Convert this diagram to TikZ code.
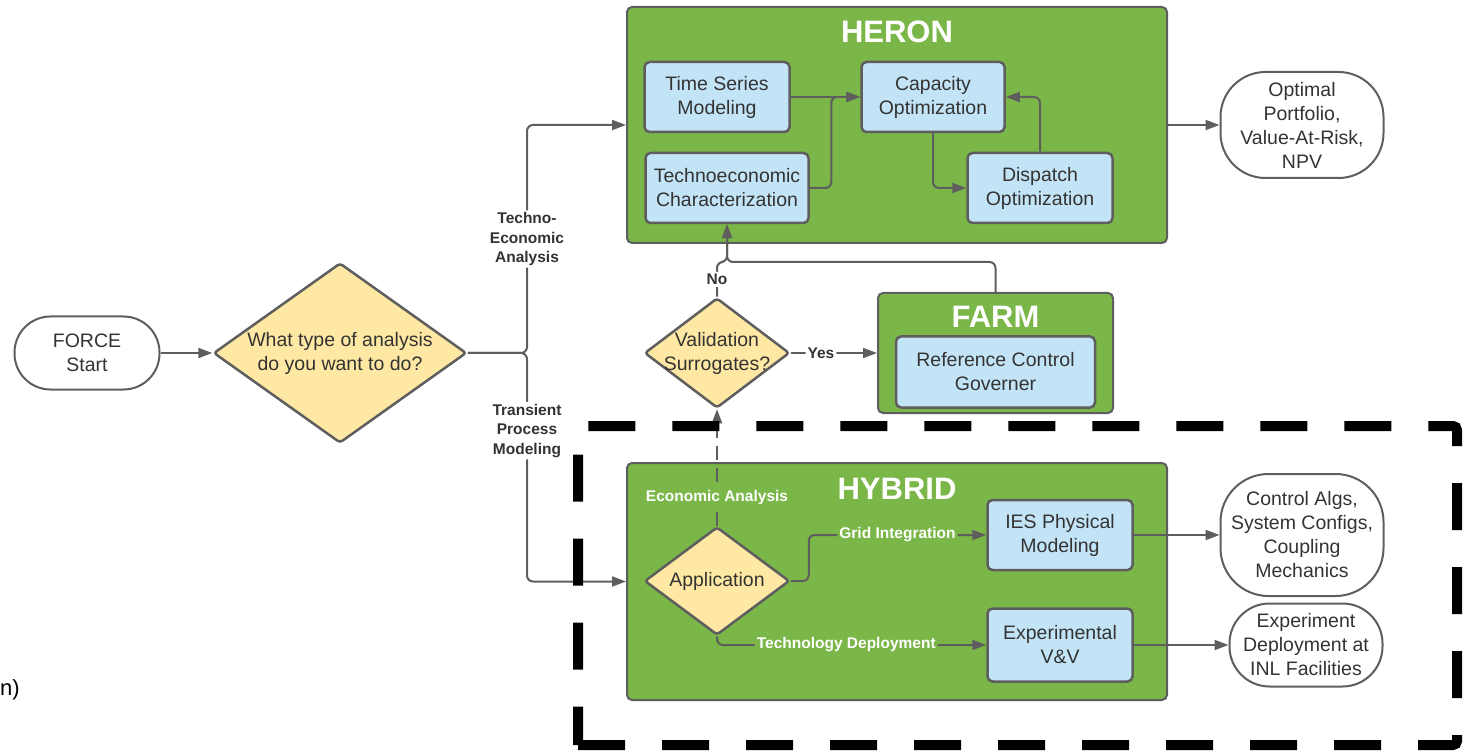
\documentclass[tikz,border=0pt]{standalone}
\usepackage{fontspec}
\setmainfont{Liberation Sans}
\usetikzlibrary{shapes.geometric,arrows.meta,positioning}

\definecolor{toolgreen}{HTML}{7AB648}
\definecolor{modblue}{HTML}{C3E4F6}
\definecolor{decyellow}{HTML}{FFE8A3}
\definecolor{linegray}{HTML}{5E5E5E}
\definecolor{inkgray}{HTML}{333333}

\tikzset{
  boxfont/.style={font=\fontsize{19.5}{24}\selectfont},
  tool/.style={draw=linegray, fill=toolgreen, line width=2pt, rounded corners=5pt, inner sep=0pt},
  tooltitle/.style={text=white, font=\fontsize{31}{36}\selectfont\bfseries},
  module/.style={draw=linegray, fill=modblue, line width=2.5pt, rounded corners=5pt, align=center,
    text=inkgray, boxfont, minimum width=145pt, minimum height=70pt, inner sep=0pt},
  decision/.style={diamond, draw=linegray, fill=decyellow, line width=2.5pt, rounded corners=3pt,
    inner sep=0pt, minimum width=145pt, minimum height=110pt},
  pill/.style={draw=linegray, line width=2pt, align=center, text=inkgray, boxfont, inner sep=0pt},
  conn/.style={draw=linegray, line width=2pt, rounded corners=6pt, -{Triangle[length=14pt,width=10pt]}},
  branch/.style={fill=white, text=inkgray, font=\fontsize{15.5}{19.5}\selectfont\bfseries, align=center, inner sep=2pt},
  inlabel/.style={fill=toolgreen, text=white, font=\fontsize{15.5}{19}\selectfont\bfseries, inner sep=2pt},
  hybridframe/.style={draw=black, line width=10pt, dash pattern=on 47pt off 37pt, rounded corners=4pt},
}

\begin{document}
\begin{tikzpicture}[x=1pt,y=-1pt,on grid]
\useasboundingbox (0,0) rectangle (1473,751);

% containers
\node[tool, minimum width=540pt, minimum height=236pt] (heron) at (897,125) {};
\node[tool, minimum width=235pt, minimum height=120pt] (farm) at (995.5,353) {};
\node[tool, minimum width=540pt, minimum height=237pt] (hybrid) at (897,581.5) {};
\node[tooltitle] (herontitle) at ([yshift=-26pt]heron.north) {HERON};
\node[tooltitle] (farmtitle) at ([yshift=-25pt]farm.north) {FARM};
\node[tooltitle] (hybridtitle) at ([yshift=-27pt]hybrid.north) {HYBRID};

% start and first decision
\node[pill, minimum width=145pt, minimum height=73pt, rounded corners=36pt] (start) at (87,353) {FORCE\\Start};
\node[decision, minimum width=253pt, minimum height=180pt,
  label={[text=inkgray, boxfont, align=center]center:What type of analysis\\do you want to do?}] (what) at (340,353) {};

% HERON
\node[module] (ts) at (717,97) {Time Series\\Modeling};
\node[module, minimum width=163pt] (tech) [below right=91pt and 10pt of ts] {Technoeconomic\\Characterization};
\node[module, minimum width=143pt] (cap) [right=216pt of ts] {Capacity\\Optimization};
\node[module] (disp) [right=313pt of tech] {Dispatch\\Optimization};
\node[pill, minimum width=163pt, minimum height=106pt, rounded corners=45pt] (optimal) at (1302,125)
  {Optimal\\Portfolio,\\Value-At-Risk,\\NPV};

% FARM
\node[decision, label={[text=inkgray, boxfont, align=center]center:Validation\\Surrogates?}] (val)
  [below=256pt of ts] {};
\node[module, minimum width=199pt, minimum height=71pt] (rcg) [below=19pt of farm] {Reference Control\\Governer};

% HYBRID
\node[decision, minimum height=108pt, label={[text=inkgray, boxfont]center:Application}] (app)
  [below=228pt of val] {};
\node[module] (ies) at (1060,535) {IES Physical\\Modeling};
\node[module, minimum height=73pt] (exp) [below=110pt of ies] {Experimental\\V\&V};
\node[pill, minimum width=163pt, minimum height=122pt, rounded corners=48pt] (control) [right=242pt of ies]
  {Control Algs,\\System Configs,\\Coupling\\Mechanics};
\node[pill, minimum width=153pt, minimum height=83pt, rounded corners=40pt] (deploy) [right=246pt of exp]
  {Experiment\\Deployment at\\INL Facilities};

% connectors
\coordinate (split) at (527,353);
\coordinate (nojoin) at (tech.south |- 0,262);
\draw[conn] (start.east) -- (what.west);
\draw[conn] (what.east) -- (split) |- node[branch, pos=0.25] {Techno-\\Economic\\Analysis} (heron.west);
\draw[conn] (what.east) -- (split) |- node[branch, pos=0.17] {Transient\\Process\\Modeling} (hybrid.west);
\draw[conn] (ts.east) -- (cap.west);
\draw[conn] (tech.east) -| ([xshift=-29pt]cap.west) -- (cap.west);
\draw[conn] (cap.south) |- (disp.west);
\draw[conn] (disp.north) |- (cap.east);
\draw[conn] (heron.east) -- (optimal.west);
\draw[conn] (val.north) |- node[branch, pos=0.25] {No} (nojoin) -- (tech.south);
\draw[conn] (farm.north) |- (nojoin) -- (tech.south);
\draw[conn] (val.east) -- node[branch, pos=0.35] {Yes} (farm.west);
\draw[conn, dash pattern=on 14pt off 8pt] (app.north) -- node[inlabel, pos=0.24] {Economic Analysis} (val.south);
\draw[conn] (app.east) -- ++(18,0) |- node[inlabel, pos=0.75] {Grid Integration} (ies.west);
\draw[conn] (app.south) |- node[inlabel, pos=0.74] {Technology Deployment} (exp.west);
\draw[conn] (ies.east) -- (control.west);
\draw[conn] (exp.east) -- (deploy.west);

% frame round the HYBRID part
\coordinate (frameBL) at (578,745);
\coordinate (frameBR) at (1457,745);
\coordinate (frameTR) at (1457,426);
\coordinate (frameTL) at (578,426);
\draw[hybridframe] (frameBL) -- (frameBR) -- (frameTR) -- (frameTL) -- (frameBL);

\node[anchor=west, inner sep=0pt, font=\fontsize{22}{26}\selectfont] (cutoff) at (0,690) {n)};
\end{tikzpicture}
\end{document}
